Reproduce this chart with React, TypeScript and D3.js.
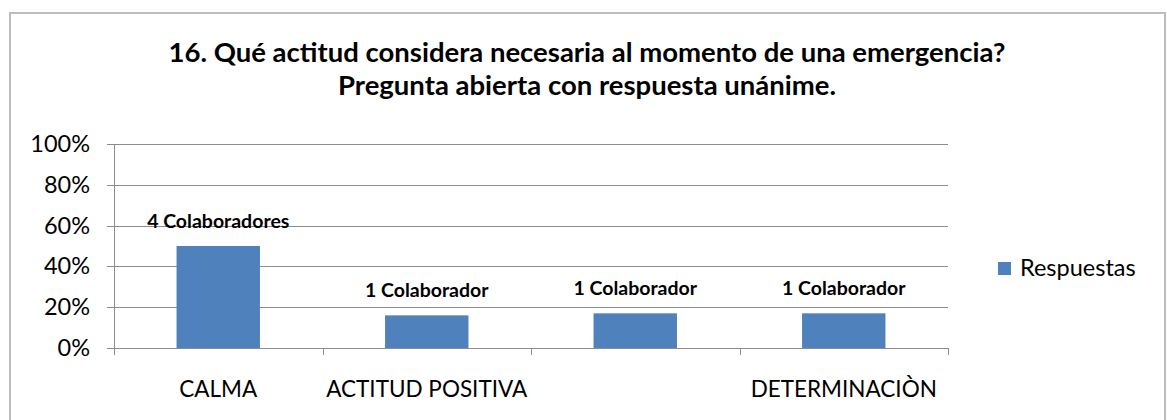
import React from "react";
import * as d3 from "d3";

const categories = ["CALMA", "ACTITUD POSITIVA", "", "DETERMINACIÒN"];
const values = [50, 16, 17, 17];
const dataLabels = ["4 Colaboradores", "1 Colaborador", "1 Colaborador", "1 Colaborador"];
const yTicks = [0, 20, 40, 60, 80, 100];
const seriesName = "Respuestas";
const titleLines = [
  "16. Qué actitud considera necesaria al momento de una emergencia?",
  "Pregunta abierta con respuesta unánime.",
];

const W = 1167;
const H = 420;
const plot = { left: 114, right: 948, top: 144, bottom: 348 };
const barColor = "#4f81bd";
const gridColor = "#8c8c8c";
const font = "Lato, 'Open Sans', sans-serif";

export default function App() {
  const x = d3
    .scaleBand<number>()
    .domain(d3.range(categories.length))
    .range([plot.left, plot.right])
    .paddingInner(0)
    .paddingOuter(0);
  const y = d3.scaleLinear().domain([0, 100]).range([plot.bottom, plot.top]);
  const bw = x.bandwidth() / 2.5;

  return (
    <svg
      width={W}
      height={H}
      style={{ position: "absolute", left: 0, top: 0, background: "#fff" }}
    >
      <rect x={0} y={0} width={W} height={H} fill="#fff" />
      <rect x={10} y={13} width={1155} height={420} fill="#fff" stroke="#bdbdbd" strokeWidth={2} />
      {titleLines.map((t, i) => (
        <text
          key={i}
          x={587}
          y={62 + i * 33}
          textAnchor="middle"
          fontFamily={font}
          fontWeight="bold"
          fontSize={27.5}
          fill="#000"
        >
          {t}
        </text>
      ))}
      {yTicks.map((t) => (
        <g key={t}>
          <line
            x1={plot.left - 7}
            x2={plot.right}
            y1={Math.round(y(t)) + 0.5}
            y2={Math.round(y(t)) + 0.5}
            stroke={gridColor}
            strokeWidth={1}
          />
          <text
            x={90}
            y={y(t) + 8}
            textAnchor="end"
            fontFamily={font}
            fontSize={23.5}
            fill="#000"
          >
            {t}%
          </text>
        </g>
      ))}
      <line
        x1={plot.left + 0.5}
        x2={plot.left + 0.5}
        y1={plot.top}
        y2={plot.bottom + 7}
        stroke={gridColor}
      />
      {d3.range(categories.length + 1).map((i) => {
        const xx = i < categories.length ? x(i)! : plot.right;
        return (
          <line
            key={i}
            x1={Math.round(xx) + 0.5}
            x2={Math.round(xx) + 0.5}
            y1={plot.bottom}
            y2={plot.bottom + 7}
            stroke={gridColor}
          />
        );
      })}
      {values.map((v, i) => {
        const cx = x(i)! + x.bandwidth() / 2;
        return (
          <g key={i}>
            <rect
              x={cx - bw / 2}
              y={y(v)}
              width={bw}
              height={plot.bottom - y(v)}
              fill={barColor}
            />
            <text
              x={cx}
              y={y(v) - 18}
              textAnchor="middle"
              fontFamily={font}
              fontWeight="bold"
              fontSize={19.5}
              fill="#000"
            >
              {dataLabels[i]}
            </text>
            <text
              x={cx}
              y={397}
              textAnchor="middle"
              fontFamily={font}
              fontSize={22.5}
              fill="#000"
            >
              {categories[i]}
            </text>
          </g>
        );
      })}
      <rect x={998} y={262} width={13} height={13} fill={barColor} />
      <text x={1020} y={276} fontFamily={font} fontSize={23.5} fill="#000">
        {seriesName}
      </text>
    </svg>
  );
}
